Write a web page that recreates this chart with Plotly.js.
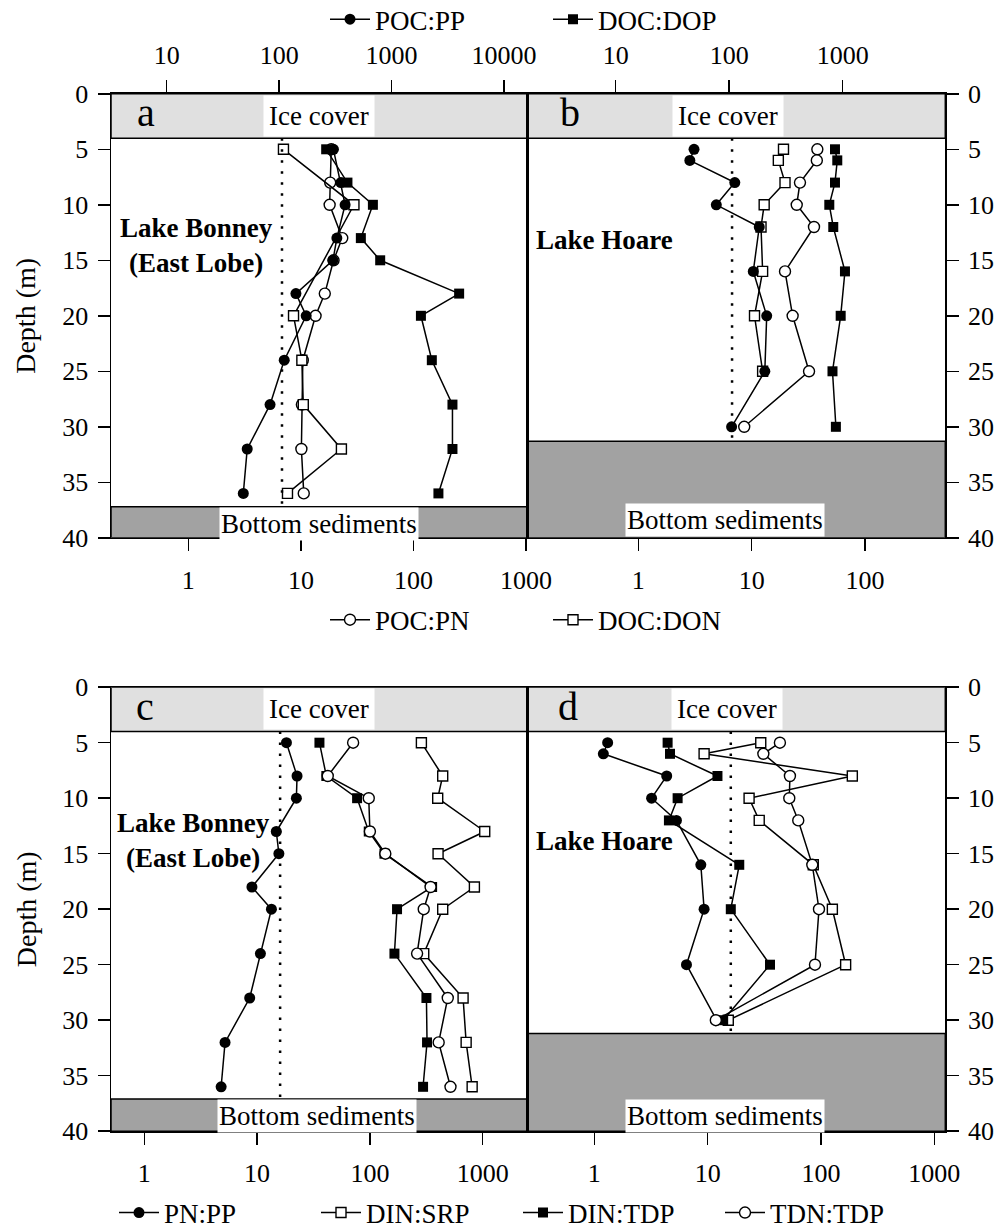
<!DOCTYPE html>
<html><head><meta charset="utf-8">
<script src="https://cdn.plot.ly/plotly-3.0.1.min.js"></script>
<style>html,body{margin:0;padding:0;background:#fff;} #chart{width:1000px;height:1228px;}</style>
</head><body><div id="chart"></div>
<script>
// ---------- Data ----------
// Panel a: Lake Bonney (East Lobe) - C ratios
const depthA = [5, 8, 10, 13, 15, 18, 20, 24, 28, 32, 36];
const pocPP_A = [304, 354, 386, 326, 301, 141, 174, 111, 83, 52, 48];
const docDOP_A = [262, 405, 682, 533, 792, 3990, 1824, 2280, 3480, 3480, 2610];
const pocPN_A = [18.6, 18.2, 18.0, 23.3, 19.5, 16.3, 13.5, 10.4, 10.2, 10.1, 10.6];
const depthA_DON = [5, 10, 20, 24, 28, 32, 36];
const docDON_A = [7.0, 29.6, 8.6, 10.2, 10.5, 22.9, 7.6];

// Panel b: Lake Hoare - C ratios
const depthB = [5, 6, 8, 10, 12, 16, 20, 25, 30];
const pocPP_B = [49, 45, 112, 77, 184, 163, 214, 206, 105];
const docDOP_B = [855, 896, 855, 762, 826, 1047, 960, 813, 871];
const pocPN_B = [38, 37.6, 26.7, 25, 35.5, 19.7, 23, 32.1, 8.6];
const depthB_DON = [5, 6, 8, 10, 12, 16, 20, 25];
const docDON_B = [19.1, 17.2, 19.7, 12.9, 12.1, 12.5, 10.6, 12.5];

// Panel c: Lake Bonney (East Lobe) - N:P ratios
const depthC = [5, 8, 10, 13, 15, 18, 20, 24, 28, 32, 36];
const pnPP_C = [18.2, 22.6, 22.3, 14.8, 15.6, 9.0, 13.4, 10.7, 8.6, 5.2, 4.8];
const dinSRP_C = [286, 442, 399, 1042, 402, 844, 442, 300, 670, 713, 806];
const dinTDP_C = [35.7, 41.1, 77, 97.7, 134.6, 356, 174, 165, 317, 321, 296];
const tdnTDP_C = [71, 42.3, 97.7, 100, 137, 345, 300, 262, 490, 407, 518];

// Panel d: Lake Hoare - N:P ratios
const depthD = [5, 6, 8, 10, 12, 16, 20, 25, 30];
const pnPP_D = [1.31, 1.2, 4.35, 3.2, 5.3, 8.7, 9.3, 6.5, 12];
const dinSRP_D = [29.4, 9.3, 189, 23.2, 28.5, 85.5, 126, 165, 15.2];
const dinTDP_D = [4.43, 4.65, 12.2, 5.43, 4.55, 19, 16, 35.5, 13.7];
const tdnTDP_D = [43.4, 31, 53.2, 52.5, 63, 83.8, 96, 88.5, 11.8];

// Reference lines and zones
const redfieldCP = 106;
const redfieldNP = 16;
const iceBottom = 4;
const sedTopBonney = 37.2;
const sedTopHoare = 31.3;
const maxDepth = 40;

// Tick labels
const depthTicks = [0, 5, 10, 15, 20, 25, 30, 35, 40];
const ticksA_bottom = [1, 10, 100, 1000];
const ticksA_top = [10, 100, 1000, 10000];
const ticksB_bottom = [1, 10, 100];
const ticksB_top = [10, 100, 1000];
const ticksNP = [1, 10, 100, 1000];

// ---------- Styling ----------
const FONT = 'Liberation Serif, Times New Roman, serif';
const BLACK = '#000';

function series(name, x, y, xa, ya, symbol, filled, legend, showlegend) {
  const isCircle = symbol === 'circle';
  return {
    type: 'scatter', mode: 'lines+markers', name: name,
    x: x, y: y, xaxis: xa, yaxis: ya,
    legendgroup: name, legend: legend, showlegend: showlegend,
    line: {color: BLACK, width: 1.5},
    marker: {
      symbol: symbol, size: isCircle ? 11 : 10,
      color: filled ? BLACK : '#fff',
      line: {color: BLACK, width: filled ? 0 : 1.4}
    },
    cliponaxis: false
  };
}
function redfield(val, top, xa, ya) {
  return {
    type: 'scatter', mode: 'lines', x: [val, val], y: [iceBottom, top],
    xaxis: xa, yaxis: ya, showlegend: false, hoverinfo: 'skip',
    line: {color: BLACK, width: 2.5, dash: '2.5px,8.5px'}
  };
}

const traces = [
  redfield(redfieldCP, sedTopBonney, 'x2', 'y'),
  redfield(redfieldCP, sedTopHoare, 'x4', 'y2'),
  redfield(redfieldNP, sedTopBonney - 0.1, 'x5', 'y3'),
  redfield(redfieldNP, sedTopHoare - 0.1, 'x6', 'y4'),
  // panel a
  series('POC:PP', pocPP_A, depthA, 'x2', 'y', 'circle', true, 'legend', true),
  series('DOC:DOP', docDOP_A, depthA, 'x2', 'y', 'square', true, 'legend', true),
  series('POC:PN', pocPN_A, depthA, 'x', 'y', 'circle', false, 'legend2', true),
  series('DOC:DON', docDON_A, depthA_DON, 'x', 'y', 'square', false, 'legend2', true),
  // panel b
  series('POC:PP', pocPP_B, depthB, 'x4', 'y2', 'circle', true, 'legend', false),
  series('DOC:DOP', docDOP_B, depthB, 'x4', 'y2', 'square', true, 'legend', false),
  series('POC:PN', pocPN_B, depthB, 'x3', 'y2', 'circle', false, 'legend2', false),
  series('DOC:DON', docDON_B, depthB_DON, 'x3', 'y2', 'square', false, 'legend2', false),
  // panel c
  series('PN:PP', pnPP_C, depthC, 'x5', 'y3', 'circle', true, 'legend3', true),
  series('DIN:SRP', dinSRP_C, depthC, 'x5', 'y3', 'square', false, 'legend3', true),
  series('DIN:TDP', dinTDP_C, depthC, 'x5', 'y3', 'square', true, 'legend3', true),
  series('TDN:TDP', tdnTDP_C, depthC, 'x5', 'y3', 'circle', false, 'legend3', true),
  // panel d
  series('PN:PP', pnPP_D, depthD, 'x6', 'y4', 'circle', true, 'legend3', false),
  series('DIN:SRP', dinSRP_D, depthD, 'x6', 'y4', 'square', false, 'legend3', false),
  series('DIN:TDP', dinTDP_D, depthD, 'x6', 'y4', 'square', true, 'legend3', false),
  series('TDN:TDP', tdnTDP_D, depthD, 'x6', 'y4', 'circle', false, 'legend3', false)
];

const colL = [0.111, 0.5275];
const colR = [0.5275, 0.9453];
const rowT = [0.56205, 0.92362];
const rowB = [0.07883, 0.44039];

function xax(domain, range, vals, anchor, side, extra) {
  return Object.assign({
    type: 'log', domain: domain, range: range, anchor: anchor, side: side,
    tickvals: vals, ticktext: vals.map(String),
    ticks: 'outside', ticklen: 12, tickwidth: 1.5, tickcolor: BLACK,
    showline: true, linecolor: BLACK, linewidth: 1.5,
    showgrid: false, zeroline: false,
    tickfont: {family: FONT, size: 26, color: BLACK},
    ticklabelstandoff: 6, fixedrange: true
  }, extra || {});
}
function yax(domain, anchor, side) {
  return {
    domain: domain, range: [maxDepth, 0], anchor: anchor, side: side,
    tickvals: depthTicks, ticktext: depthTicks.map(String),
    ticks: 'outside', ticklen: 12, tickwidth: 1.5, tickcolor: BLACK,
    showline: true, linecolor: BLACK, linewidth: 1.5, mirror: true,
    showgrid: false, zeroline: false,
    tickfont: {family: FONT, size: 26, color: BLACK},
    ticklabelstandoff: 4, fixedrange: true
  };
}

const ICE = '#e0e0e0';
const SED = '#a2a2a2';
function zoneShapes(xref, yref, sedTop) {
  return [
    {type: 'rect', xref: xref + ' domain', yref: yref, x0: 0, x1: 1, y0: 0, y1: iceBottom,
     fillcolor: ICE, line: {color: BLACK, width: 1.5}, layer: 'below'},
    {type: 'rect', xref: xref + ' domain', yref: yref, x0: 0, x1: 1, y0: sedTop, y1: maxDepth,
     fillcolor: SED, line: {color: BLACK, width: 1.5}, layer: 'below'}
  ];
}

const txt = (size, bold) => ({family: FONT, size: size, color: BLACK, weight: bold ? 'bold' : 'normal'});
function ann(text, xref, yref, x, y, size, opts) {
  return Object.assign({text: text, xref: xref, yref: yref, x: x, y: y,
    showarrow: false, font: txt(size, false), xanchor: 'center', yanchor: 'middle'}, opts || {});
}
const white = {bgcolor: '#fff', borderpad: 5};
const whiteS = {bgcolor: '#fff', borderpad: 1};

const annotations = [
  // Ice cover labels
  ann('Ice cover', 'x domain', 'y', 0.5, 2, 27, white),
  ann('Ice cover', 'x3 domain', 'y2', 0.48, 2, 27, white),
  ann('Ice cover', 'x5 domain', 'y3', 0.5, 2, 27, white),
  ann('Ice cover', 'x6 domain', 'y4', 0.478, 2, 27, white),
  // Bottom sediments labels
  ann('Bottom sediments', 'x domain', 'y', 0.5, 38.75, 27, whiteS),
  ann('Bottom sediments', 'x3 domain', 'y2', 0.473, 38.4, 27, whiteS),
  ann('Bottom sediments', 'x5 domain', 'y3', 0.494, 38.6, 27, whiteS),
  ann('Bottom sediments', 'x6 domain', 'y4', 0.473, 38.6, 27, whiteS),
  // Panel letters
  ann('a', 'x domain', 'y', 0.085, 1.7, 40),
  ann('b', 'x3 domain', 'y2', 0.102, 1.7, 40),
  ann('c', 'x5 domain', 'y3', 0.082, 1.7, 40),
  ann('d', 'x6 domain', 'y4', 0.097, 1.7, 40),
  // Lake names
  ann('Lake Bonney<br>(East Lobe)', 'x domain', 'y', 0.205, 13.7, 27, {font: txt(27, true)}),
  ann('Lake Hoare', 'x3 domain', 'y2', 0.185, 13.2, 27, {font: txt(27, true)}),
  ann('Lake Bonney<br>(East Lobe)', 'x5 domain', 'y3', 0.197, 13.8, 27, {font: txt(27, true)}),
  ann('Lake Hoare', 'x6 domain', 'y4', 0.185, 13.9, 27, {font: txt(27, true)}),
  // Depth titles
  ann('Depth (m)', 'paper', 'paper', 0.026, (rowT[0] + rowT[1]) / 2, 28, {textangle: -90}),
  ann('Depth (m)', 'paper', 'paper', 0.026, (rowB[0] + rowB[1]) / 2, 28, {textangle: -90})
];

function legendAt(x, y, entry) {
  return {
    x: x, y: y, xref: 'container', yref: 'container',
    orientation: 'h', xanchor: 'left', yanchor: 'middle',
    font: {family: FONT, size: 27, color: BLACK},
    bgcolor: 'rgba(0,0,0,0)', itemwidth: 40,
    entrywidthmode: 'pixels', entrywidth: entry
  };
}

const layout = {
  width: 1000, height: 1228,
  margin: {l: 0, r: 0, t: 0, b: 0, autoexpand: false},
  paper_bgcolor: '#fff', plot_bgcolor: '#fff',
  font: {family: FONT, size: 26, color: BLACK},
  showlegend: true,
  legend: legendAt(0.325, 0.984, 168),
  legend2: legendAt(0.325, 0.495, 168),
  legend3: legendAt(0.114, 0.0122, 147),
  xaxis: xax(colL, [-0.687, 3.013], ticksA_bottom, 'y', 'bottom', {mirror: false}),
  xaxis2: xax(colL, [0.5044, 4.209], ticksA_top, 'y', 'top', {overlaying: 'x'}),
  xaxis3: xax(colR, [-0.978, 2.709], ticksB_bottom, 'y2', 'bottom'),
  xaxis4: xax(colR, [0.223, 3.904], ticksB_top, 'y2', 'top', {overlaying: 'x3'}),
  xaxis5: xax(colL, [-0.295, 3.397], ticksNP, 'y3', 'bottom', {mirror: true}),
  xaxis6: xax(colR, [-0.59, 3.097], ticksNP, 'y4', 'bottom', {mirror: true}),
  yaxis: yax(rowT, 'x', 'left'),
  yaxis2: yax(rowT, 'x3', 'right'),
  yaxis3: yax(rowB, 'x5', 'left'),
  yaxis4: yax(rowB, 'x6', 'right'),
  shapes: [].concat(
    zoneShapes('x', 'y', sedTopBonney),
    zoneShapes('x3', 'y2', sedTopHoare),
    zoneShapes('x5', 'y3', sedTopBonney - 0.1),
    zoneShapes('x6', 'y4', sedTopHoare - 0.1)
  ),
  annotations: annotations
};

Plotly.newPlot('chart', traces, layout, {staticPlot: true, displayModeBar: false});
</script></body></html>
